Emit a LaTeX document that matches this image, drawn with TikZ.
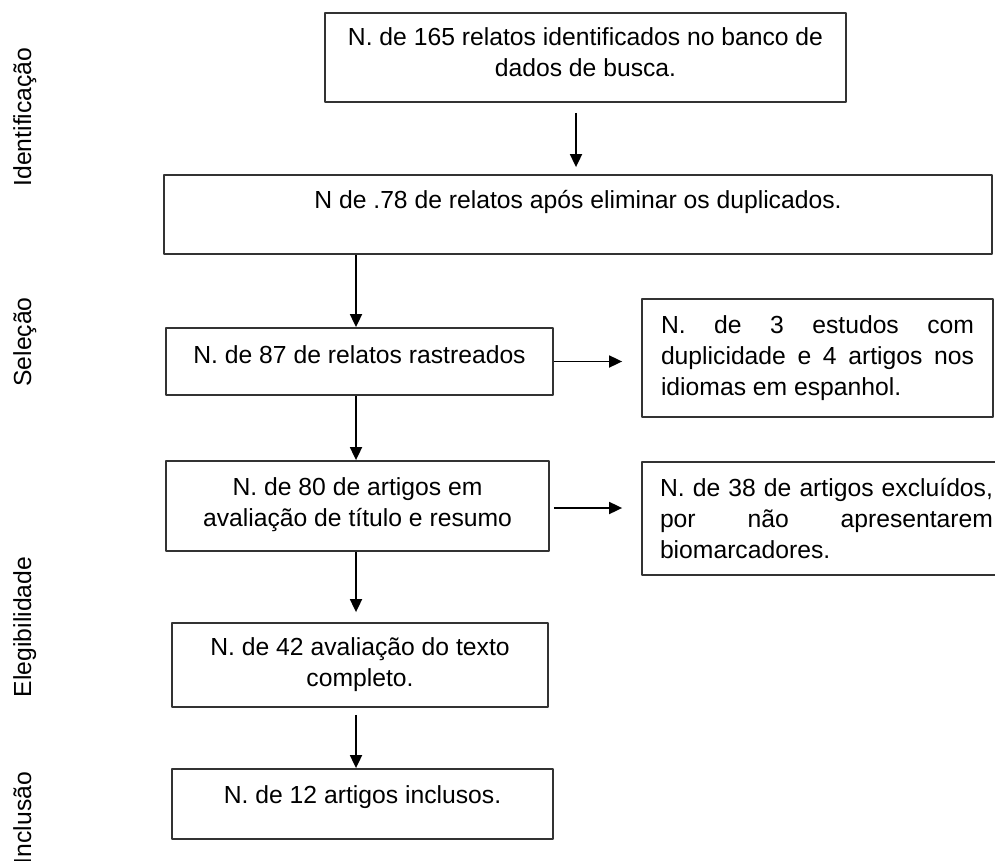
\documentclass[tikz,border=0pt]{standalone}
\usepackage{fontspec}
\setmainfont{Liberation Sans}
\usetikzlibrary{arrows.meta}
\newcommand{\padbelow}[1]{\rule[-#1]{0pt}{#1}}
\begin{document}
\begin{tikzpicture}[x=1pt, y=-1pt, font=\fontsize{24.7}{31}\selectfont, line join=round,
  >={Triangle[length=13pt,width=12pt]},
  box/.style={draw=black!80, line width=1.8pt, align=center, inner sep=0pt},
  flow/.style={->, line width=1.8pt}]
\useasboundingbox (0,0) rectangle (995,861);
\clip (0,0) rectangle (995,861);
\coordinate (col1) at (576,0);
\coordinate (col) at (356,0);
\node[box, minimum width=521pt, minimum height=89pt] (ident) at (585.5,57.5)
  {N. de 165 relatos identificados no banco de\\dados de busca.\padbelow{10.4pt}};
\node[box, minimum width=828pt, minimum height=79pt] (dup) at (578,214.5)
  {N de .78 de relatos após eliminar os duplicados.\padbelow{29.4pt}};
\node[box, minimum width=387pt, minimum height=67pt] (screen) at (359.5,361.5)
  {N. de 87 de relatos rastreados\padbelow{13.4pt}};
\node[box, minimum width=351pt, minimum height=118pt, text width=313pt, align=justify] (excl1) at (817.5,358)
  {N. de 3 estudos com\linebreak duplicidade e 4 artigos nos\linebreak idiomas em espanhol.};
\node[box, minimum width=383pt, minimum height=90pt] (title) at (357.5,506)
  {N. de 80 de artigos em\\avaliação de título e resumo\padbelow{7.4pt}};
\node[box, minimum width=369pt, minimum height=113pt, text width=333pt, align=justify] (excl2) at (826.5,518.5)
  {N. de 38 de artigos excluídos,\linebreak por não apresentarem\linebreak biomarcadores.};
\node[box, minimum width=376pt, minimum height=84pt] (full) at (360,665)
  {N. de 42 avaliação do texto\\completo.};
\node[box, minimum width=381pt, minimum height=70pt] (incl) at (362.5,804)
  {N. de 12 artigos inclusos.\padbelow{18.4pt}};
% arrows
\draw[flow, shorten <=10pt, shorten >=7pt] (ident.south -| col1) -- (dup.north -| col1);
\draw[flow] (dup.south -| col) -- (screen.north -| col);
\draw[flow] (screen.south -| col) -- (title.north -| col);
\draw[flow, shorten >=10pt] (title.south -| col) -- (full.north -| col);
\draw[flow, shorten <=7pt] (full.south -| col) -- (incl.north -| col);
\draw[flow, shorten >=19pt] (screen.east) -- (screen.east -| excl1.west);
\draw[flow, shorten <=4pt, shorten >=19pt] ([yshift=-2pt]title.east) -- ([yshift=-2pt]title.east -| excl2.west);
% phases
\foreach \t/\y [count=\i] in {Identificação/117,Seleção/342,Elegibilidade/627,Inclusão/818}
  \node[rotate=90, anchor=base] (phase\i) at (31,\y) {\t};
\end{tikzpicture}
\end{document}
